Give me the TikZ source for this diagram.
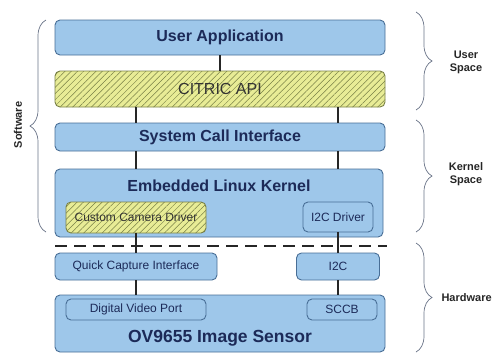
\documentclass[tikz,border=0pt]{standalone}
\usepackage{fontspec}
\setmainfont{Liberation Sans}
\usetikzlibrary{arrows.meta, calc, decorations.pathreplacing, patterns.meta, positioning}
\definecolor{boxblue}{RGB}{158,199,234}
\definecolor{boxline}{RGB}{72,110,150}
\definecolor{hatchfill}{RGB}{232,236,150}
\definecolor{hatchline}{RGB}{120,128,70}
\definecolor{navy}{RGB}{28,42,88}
\definecolor{bracegray}{RGB}{105,115,135}
\tikzset{
  layerbox/.style={draw=boxline, fill=boxblue, line width=0.9pt, rounded corners=5pt,
    inner sep=0pt, text=navy},
  hatched/.style={draw=hatchline, fill=hatchfill, line width=0.9pt, rounded corners=5pt,
    inner sep=0pt, text=black!80,
    postaction={pattern={Lines[angle=45, distance=4.4pt, line width=0.5pt]}, pattern color=hatchline}},
  bigtext/.style={font=\fontsize{16}{19}\selectfont\bfseries, text=navy},
  smalltext/.style={font=\fontsize{12}{14}\selectfont},
  sidelabel/.style={font=\fontsize{11}{13}\selectfont\bfseries, text=black!85, align=center},
  link/.style={line width=1.6pt, black!85},
  curly/.style={decorate, decoration={brace, amplitude=16pt}, bracegray, line width=0.7pt}
}
\begin{document}
\begin{tikzpicture}[x=1pt, y=-1pt]
  \useasboundingbox (0,0) rectangle (498,354);
  % software stack
  \node[layerbox, bigtext, minimum width=330pt, minimum height=35pt] (userapp) at (220,37.5) {User Application};
  \node[hatched, minimum width=330pt, minimum height=36pt, font=\fontsize{16}{19}\selectfont] (citric) at (220,89) {CITRIC API};
  \node[layerbox, bigtext, minimum width=330pt, minimum height=28pt] (syscall) at (220,137) {System Call Interface};
  \node[layerbox, minimum width=328pt, minimum height=68pt] (kernel) at (219,203) {};
  \node[bigtext] (kerneltitle) at (219,186) {Embedded Linux Kernel};
  \node[hatched, smalltext, minimum width=140pt, minimum height=31pt] (camdrv) at (136,217.5) {Custom Camera Driver};
  \node[layerbox, smalltext, minimum width=70pt, minimum height=30pt] (i2cdrv) at (338,217) {I2C Driver};
  % hardware / software boundary
  \draw[line width=2.6pt, black!85, dash pattern=on 12pt off 7pt] (55,246) -- (387,246);
  % hardware
  \node[layerbox, smalltext, minimum width=162pt, minimum height=27pt] (qci) at (136,266.5) {Quick Capture Interface};
  \node[layerbox, smalltext, minimum width=83pt, minimum height=27pt] (i2c) at (338,266.5) {I2C};
  \node[layerbox, minimum width=330pt, minimum height=57pt] (sensor) at (220,323.5) {};
  \node[bigtext, font=\fontsize{17.5}{20}\selectfont\bfseries] (sensortitle) at (220,338) {OV9655 Image Sensor};
  \node[layerbox, smalltext, minimum width=140pt, minimum height=21pt] (dvp) at (136,309.5) {Digital Video Port};
  \node[layerbox, smalltext, minimum width=70pt, minimum height=21pt] (sccb) at (342,309.5) {SCCB};
  % connectors
  \draw[link] (userapp.south) -- (citric.north);
  \draw[link] (citric.south -| camdrv.south) -- (syscall.north -| camdrv.north);
  \draw[link] (citric.south -| i2cdrv.south) -- (syscall.north -| i2cdrv.north);
  \draw[link] (syscall.south -| camdrv.south) -- (kernel.north -| camdrv.north);
  \draw[link] (syscall.south -| i2cdrv.south) -- (kernel.north -| i2cdrv.north);
  \draw[link] (camdrv.south) -- (qci.north -| camdrv.south);
  \draw[link] (i2cdrv.south) -- (i2c.north -| i2cdrv.south);
  \draw[link] (qci.south -| camdrv.south) -- (sensor.north -| camdrv.south);
  \draw[link] (i2c.south -| i2cdrv.south) -- (sensor.north -| i2cdrv.south);
  % braces
  \coordinate (swbot) at (46,232);
  \coordinate (swtop) at (46,20);
  \draw[curly] (swbot) -- (swtop);
  \node[sidelabel, rotate=90] (software) at (18,125) {Software};
  \coordinate (ustop) at (416,12);
  \coordinate (usbot) at (416,110);
  \draw[curly] (ustop) -- (usbot);
  \node[sidelabel] (userspace) at (466,62) {User\\Space};
  \coordinate (kstop) at (416,120);
  \coordinate (ksbot) at (416,232);
  \draw[curly] (kstop) -- (ksbot);
  \node[sidelabel] (kernelspace) at (466,174) {Kernel\\Space};
  \coordinate (hwtop) at (416,243);
  \coordinate (hwbot) at (416,352);
  \draw[curly] (hwtop) -- (hwbot);
  \node[sidelabel, anchor=west] (hardware) at (438,298) {Hardware};
\end{tikzpicture}
\end{document}
